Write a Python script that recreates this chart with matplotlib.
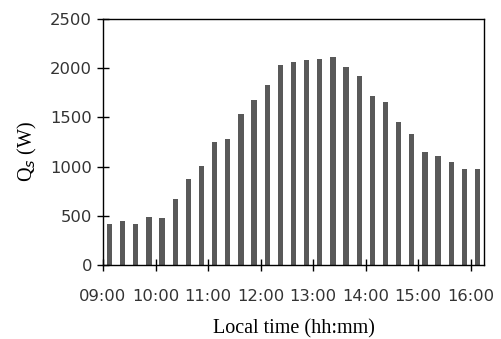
import matplotlib.pyplot as plt
import numpy as np

# 15-min intervals from 09:00 to 16:00 (29 bars)
hour_labels = ["09:00", "10:00", "11:00", "12:00", "13:00", "14:00", "15:00", "16:00"]
qs_values = [
    413, 449, 419, 487, 480, 666, 875, 1007, 1254, 1285,
    1535, 1680, 1829, 2035, 2059, 2079, 2096, 2109, 2011, 1924,
    1721, 1653, 1457, 1332, 1153, 1105, 1051, 977, 977,
]
y_ticks = [0, 500, 1000, 1500, 2000, 2500]


def main() -> None:
    fig = plt.figure(figsize=(5.01, 3.39), dpi=100)
    ax = fig.add_axes([103 / 501, 1 - 265 / 339, (484 - 103) / 501, (265 - 19) / 339])

    x = np.arange(len(qs_values))
    ax.bar(x, qs_values, width=0.4, color="#595959")

    ax.set_xlim(-0.5, len(qs_values) - 0.5)
    ax.set_ylim(0, 2500)
    ax.set_yticks(y_ticks)
    ax.set_xticks(np.arange(len(hour_labels)) * 4 - 0.5)
    ax.set_xticklabels(hour_labels)

    ax.tick_params(axis="both", direction="inout", length=8, width=1.0,
                   labelsize=11.8, colors="black")
    ax.tick_params(axis="x", pad=13)
    ax.tick_params(axis="y", pad=4)
    for lab in ax.get_xticklabels() + ax.get_yticklabels():
        lab.set_color("#333333")
    for spine in ax.spines.values():
        spine.set_color("black")
        spine.set_linewidth(1.0)

    ax.set_ylabel(r"Q$_s$ (W)", family="Liberation Serif", fontsize=14.5)
    ax.yaxis.set_label_coords(-0.168, 0.46)
    ax.set_xlabel("Local time (hh:mm)", family="Liberation Serif", fontsize=14.5)
    ax.xaxis.set_label_coords(0.5, -0.22)

    fig.savefig("out.png", dpi=100)
    plt.close(fig)


if __name__ == "__main__":
    main()
